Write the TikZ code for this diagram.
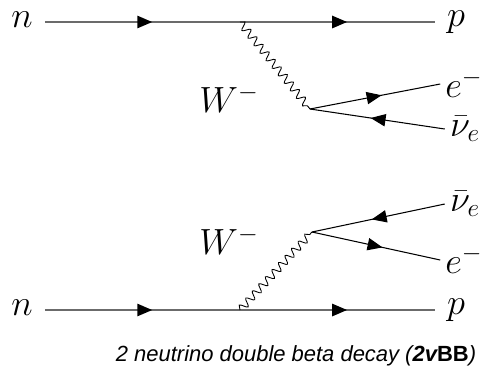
\documentclass[tikz,border=0pt]{standalone}
\usepackage{fontspec}
\usepackage{amsmath}
\usetikzlibrary{arrows.meta,decorations.pathmorphing,decorations.markings}
\newfontfamily\capfont{Liberation Sans}

\begin{document}
\begin{tikzpicture}[
  x=0.02cm, y=-0.02cm,
  font=\fontsize{22}{26}\selectfont,
  lbl/.style={inner sep=2pt, outer sep=1pt},
  tag/.style={inner sep=2pt, outer sep=5pt},
  fa/.tip={Triangle[length=8.5pt, width=7pt]},
  fwd/.style={postaction={decorate},
    decoration={markings, mark=at position 0.55 with {\arrow[black]{fa}}}},
  bwd/.style={postaction={decorate},
    decoration={markings, mark=at position 0.45 with {\arrowreversed[black]{fa}}}},
  nucleon/.style={draw=black!58, line width=1pt, fwd},
  lepton/.style={draw=black, line width=0.6pt},
  boson/.style={draw=black, line width=0.5pt,
    decorate, decoration={snake, amplitude=2.2pt, segment length=5.5pt}}]

\useasboundingbox (0,0) rectangle (487,373);

% ===== upper graph =====
\node[tag] (n1) at (22,20)  {$n$};
\node[tag] (p1) at (456,22) {$p$};
\coordinate (w1) at (240,22);
\coordinate (v1) at (310,109);
\node[lbl] (e1)  at (464,84)  {$e^{-}$};
\node[lbl] (nu1) at (465,129) {$\bar\nu_{e}$};
\node[lbl] (W1)  at (229,99)  {$W^{-}$};

% ===== lower graph =====
\node[tag] (n2) at (22,308)  {$n$};
\node[tag] (p2) at (456,310) {$p$};
\coordinate (w2) at (240,310);
\coordinate (v2) at (312,232);
\node[lbl] (nu2) at (465,204) {$\bar\nu_{e}$};
\node[lbl] (e2)  at (464,260) {$e^{-}$};
\node[lbl] (W2)  at (229,241) {$W^{-}$};

% ===== caption =====
\node[lbl] (cap) at (296,356)
  {\capfont\fontsize{12.5}{15}\selectfont\itshape 2 neutrino double beta decay (\textbf{2v}\textbf{\upshape BB})};

% ===== edges =====
\draw[nucleon] (n1.east |- w1) -- (w1);
\draw[nucleon] (w1) -- (p1.west |- w1);
\draw[boson] (w1) -- (v1);
\draw[lepton, fwd] (v1) -- (e1.west);
\draw[lepton, bwd] (v1) -- (nu1.west);

\draw[nucleon] (n2.east |- w2) -- (w2);
\draw[nucleon] (w2) -- (p2.west |- w2);
\draw[boson] (w2) -- (v2);
\draw[lepton, bwd] (v2) -- (nu2.west);
\draw[lepton, fwd] (v2) -- (e2.west);

\end{tikzpicture}
\end{document}
